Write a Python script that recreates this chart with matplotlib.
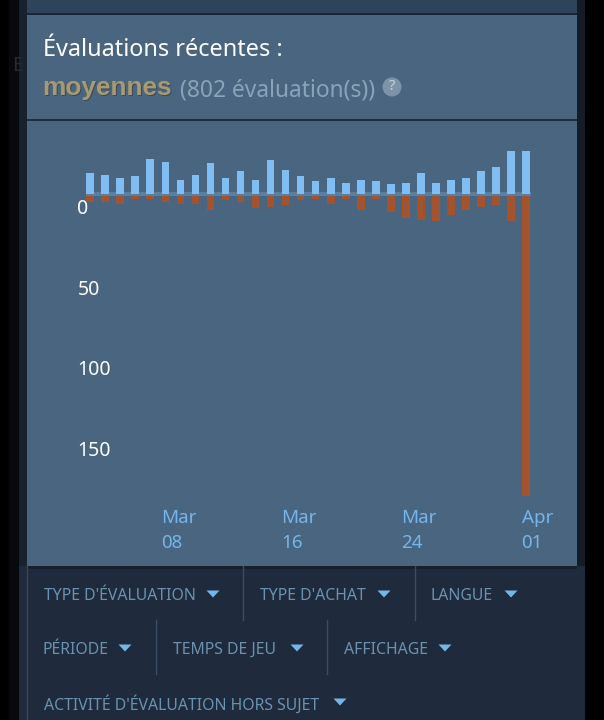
import matplotlib
matplotlib.use('Agg')
import matplotlib.pyplot as plt
from matplotlib.patches import Rectangle, Polygon, Circle

W, H = 604, 720

# daily review counts, Mar 2 -> Mar 31
positive = [13, 12, 10, 11, 22, 20, 9, 12, 19, 10, 14, 9, 21, 15, 11, 8,
            10, 7, 9, 8, 6, 7, 13, 7, 9, 10, 14, 17, 27, 27]
negative = [4, 4, 5, 2, 2, 4, 5, 5, 9, 3, 4, 8, 7, 6, 3, 2,
            5, 2, 9, 2, 10, 14, 15, 16, 12, 9, 7, 6, 16, 187]
y_ticks = [0, 50, 100, 150]
date_pos = [6, 14, 22, 30]
date_labels = ['Mar\n08', 'Mar\n16', 'Mar\n24', 'Apr\n01']

# (label, text x, arrow x, text y)
filters = [("TYPE D'ÉVALUATION", 44, 213, 594), ("TYPE D'ACHAT", 260, 384, 594),
           ("LANGUE", 431, 511, 594), ("PÉRIODE", 43, 125, 648),
           ("TEMPS DE JEU", 173, 297, 648), ("AFFICHAGE", 344, 445, 648),
           ("ACTIVITÉ D'ÉVALUATION HORS SUJET", 44, 340, 702)]
separators = [(243, 566, 620), (415, 566, 620), (156, 620, 674), (327, 620, 674)]

PANEL = '#4a657f'
BLUE = '#7fbdf2'
RED = '#a3532d'
FILTER_TXT = '#6a92b0'
ARROW = '#74b5ea'
PX = 72 / 100  # points per pixel

plt.rcParams['font.family'] = ['Noto Sans', 'DejaVu Sans']

fig = plt.figure(figsize=(W / 100, H / 100), dpi=100, facecolor='#000000')

# page background, pixel coordinates with y going down
bg = fig.add_axes([0, 0, 1, 1])
bg.set_xlim(0, W)
bg.set_ylim(H, 0)
bg.axis('off')


def box(x0, y0, x1, y1, color, z=1):
    bg.add_patch(Rectangle((x0, y0), x1 - x0, y1 - y0, facecolor=color, edgecolor='none', zorder=z))


box(9, 0, 19, H, '#07090d')
box(19, 0, 585, H, '#1f2b3c')
box(19, 0, 27, 566, '#18222f', z=1.2)
box(577, 0, 585, 566, '#141c27', z=1.2)
box(27, 0, 577, 13, '#2e435c')
box(27, 13, 577, 15, '#1a2636', z=1.5)
box(27, 566, 577, 569, '#171f2c', z=1.5)
box(27, 15, 577, 566, PANEL, z=2)
box(27, 119, 577, 121, '#1f2d3d', z=3)
bg.plot([27, 27], [566, H], color='#33465c', lw=1, zorder=2)

bg.text(12, 66, 'E', color='#2a2a2a', fontsize=14, va='center', zorder=3)

# header
bg.text(43, 50.5, 'Évaluations récentes :', color='#ffffff', fontsize=16.9, va='center', zorder=4)
bg.text(43, 89, 'moyennes', color='#3a4a58', fontsize=18.9, fontweight='bold',
        family='Liberation Sans', va='center', zorder=4)
bg.text(42, 88, 'moyennes', color='#a89a70', fontsize=18.9, fontweight='bold',
        family='Liberation Sans', va='center', zorder=4)
bg.text(180, 90, '(802 évaluation(s))', color='#8aa3b8', fontsize=16.4, va='center', zorder=4)
bg.add_patch(Circle((392, 87), 9.5, facecolor='#7e93a8', edgecolor='none', zorder=4))
bg.text(392, 87, '?', color='#c6d2dd', fontsize=10.5, fontweight='bold', ha='center', va='center', zorder=5)

# filter bar
for label, tx, ax_, ty in filters:
    bg.text(tx, ty + 2, label, color=FILTER_TXT, fontsize=11.4, va='center', zorder=4)
    bg.add_patch(Polygon([(ax_ - 6.5, ty - 3.5), (ax_ + 6.5, ty - 3.5), (ax_, ty + 3.5)],
                         closed=True, facecolor=ARROW, edgecolor='none', zorder=4))
for sx, y0, y1 in separators:
    bg.plot([sx, sx], [y0, y1], color='#3a4d63', lw=1, zorder=4)

# chart axes: left 27, right 577, top 121, bottom 566 px
ax = fig.add_axes([27 / W, 1 - 566 / H, 550 / W, 445 / H], facecolor='none')
ax.patch.set_alpha(0)
per_day = 15.03
per_unit = 1.608
ax.set_xlim((27 - 90.2) / per_day, (577 - 90.2) / per_day)
ax.set_ylim(-(566 - 194) / per_unit, (194 - 121) / per_unit)
for s in ax.spines.values():
    s.set_visible(False)
ax.set_xticks([])
ax.set_yticks([])

days = list(range(len(positive)))
ax.axhspan(-1, 1, xmin=(86 - 27) / 550, xmax=(531 - 27) / 550, color='#5a7f9f', lw=0, zorder=1)
ax.bar(days, positive, width=0.51, color=BLUE, zorder=2)
ax.bar(days, [-v for v in negative], width=0.51, bottom=-1, color=RED, zorder=2)

# value labels sit 15.5 px under their gridline in the original
for v in y_ticks:
    ax.annotate(str(v), xy=(0, -v), xycoords=ax.get_yaxis_transform(),
                xytext=(50.5 * PX, -15.5 * PX), textcoords='offset points',
                color='#ffffff', fontsize=14, ha='left', va='center')

# date labels are left aligned blocks starting before the tick position
for d, txt in zip(date_pos, date_labels):
    ax.annotate(txt, xy=(d, 0), xycoords=ax.get_xaxis_transform(),
                xytext=(-19.5 * PX, 35.5 * PX), textcoords='offset points',
                color=ARROW, fontsize=13.5, linespacing=1.55, ha='left', va='center',
                multialignment='left')

fig.savefig('out.png', dpi=100, facecolor=fig.get_facecolor())
